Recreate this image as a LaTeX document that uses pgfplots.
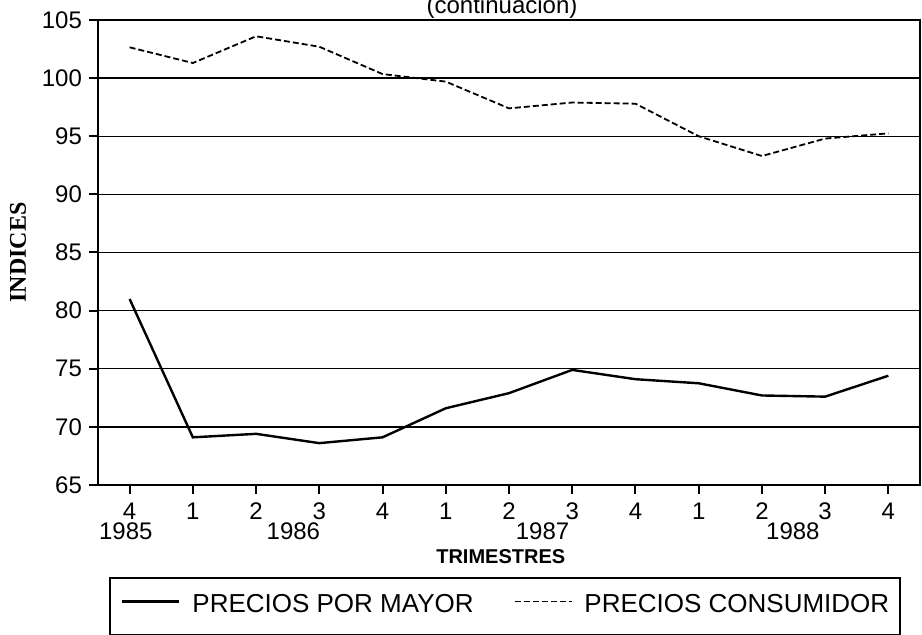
\documentclass[border=0pt]{standalone}
\usepackage{fontspec}
\setmainfont{Liberation Sans}
\newfontfamily\seriffont{Liberation Serif}
\usepackage{pgfplots}
\pgfplotsset{compat=1.18}
\begin{document}
\begin{tikzpicture}
\begin{axis}[
  scale only axis, width=411pt, height=232.5pt,
  xmin=-0.5, xmax=12.5, ymin=65, ymax=105,
  xtick={0,...,12}, xticklabels={4,1,2,3,4,1,2,3,4,1,2,3,4},
  ytick={65,70,...,105},
  tick pos=left, tick align=outside,
  major tick length=4.5pt,
  /pgf/number format/assume math mode=true,
  ticklabel style={font=\fontsize{12}{14}\selectfont},
  xticklabel style={yshift=-1pt},
  ymajorgrids, grid style={black, line width=0.7pt},
  axis line style={line width=1.2pt},
  every tick/.style={black, line width=1pt},
  clip=false,
  xlabel={TRIMESTRES},
  xlabel style={font=\fontsize{10}{12}\selectfont\bfseries, at={(axis description cs:0.490,-0.155)}, anchor=center},
  ylabel={INDICES},
  ylabel style={font=\seriffont\fontsize{12}{13}\selectfont\bfseries, at={(axis description cs:-0.0973,0.5)}, anchor=center},
  legend columns=2,
  legend cell align=left,
  legend style={at={(axis description cs:0.0134,-0.198)}, anchor=north west, draw=black, line width=1pt,
    font=\fontsize{13}{15}\selectfont, inner xsep=5.5pt, inner ysep=0pt,
    nodes={inner sep=0pt, text height=17pt, text depth=11.5pt},
    /tikz/every odd column/.append style={column sep=6pt},
    /tikz/every even column/.append style={column sep=20pt}},
  legend image code/.code={\draw[#1] (0pt,2.5pt) -- (28.5pt,2.5pt);},
]
\addplot[black, line width=1.2pt] coordinates {(0,81.0)(1,69.1)(2,69.4)(3,68.6)(4,69.1)(5,71.6)(6,72.9)(7,74.9)(8,74.1)(9,73.75)(10,72.7)(11,72.6)(12,74.4)};
\addlegendentry{PRECIOS POR MAYOR}
\addplot[black, line width=0.9pt, dash pattern=on 3pt off 1.5pt] coordinates {(0,102.65)(1,101.3)(2,103.6)(3,102.7)(4,100.35)(5,99.7)(6,97.4)(7,97.9)(8,97.8)(9,95.0)(10,93.3)(11,94.8)(12,95.25)};
\addlegendentry{PRECIOS CONSUMIDOR\hspace{7pt}}
\node[font=\fontsize{12}{14}\selectfont] at (axis cs:-0.06,65) [yshift=-23pt] {1985};
\node[font=\fontsize{12}{14}\selectfont] at (axis cs:2.59,65) [yshift=-23pt] {1986};
\node[font=\fontsize{12}{14}\selectfont] at (axis cs:6.53,65) [yshift=-23pt] {1987};
\node[font=\fontsize{12}{14}\selectfont] at (axis cs:10.49,65) [yshift=-23pt] {1988};
\node[anchor=base, font=\fontsize{12}{14}\selectfont] at (axis description cs:0.4915,1.013) {(continuacion)};
\end{axis}
\pgfresetboundingbox
\path[use as bounding box] ([xshift=-49pt,yshift=-75pt]current axis.south west) rectangle ([xshift=1pt,yshift=10pt]current axis.north east);
\end{tikzpicture}
\end{document}
